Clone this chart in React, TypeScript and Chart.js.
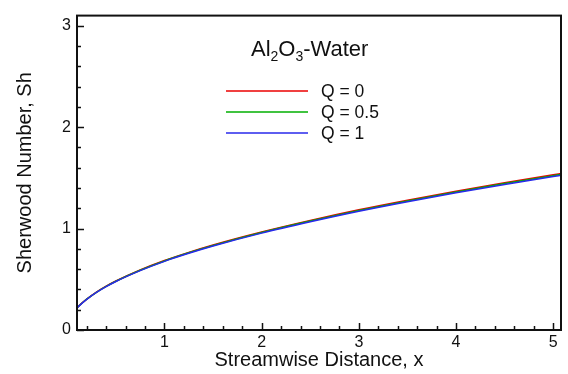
import React, { useEffect, useRef } from "react";
import { Chart, registerables } from "chart.js";

Chart.register(...registerables);

const xValues = [0.1, 0.15, 0.2, 0.3, 0.4, 0.5, 0.75, 1, 1.25, 1.5, 2, 2.5, 3, 3.5, 4, 4.5, 5, 5.08];
const shQ0 = [0.22, 0.265, 0.305, 0.374, 0.432, 0.483, 0.592, 0.685, 0.765, 0.838, 0.966, 1.08, 1.185, 1.28, 1.369, 1.452, 1.531, 1.543];
const shQ05 = [0.219, 0.264, 0.304, 0.372, 0.43, 0.481, 0.589, 0.681, 0.761, 0.833, 0.961, 1.074, 1.178, 1.273, 1.361, 1.444, 1.522, 1.534];
const shQ1 = [0.218, 0.263, 0.302, 0.37, 0.427, 0.478, 0.585, 0.677, 0.756, 0.828, 0.955, 1.067, 1.171, 1.265, 1.353, 1.435, 1.513, 1.525];

const seriesLabels = ["Q = 0", "Q = 0.5", "Q = 1"];
const seriesColors = ["rgb(235,0,0)", "rgb(0,175,0)", "rgb(40,40,235)"];
const xMajorTicks = [1, 2, 3, 4, 5];
const yMajorTicks = [0, 1, 2, 3];
const xMinorTicks = [0.2, 0.4, 0.6, 0.8, 1.2, 1.4, 1.6, 1.8, 2.2, 2.4, 2.6, 2.8, 3.2, 3.4, 3.6, 3.8, 4.2, 4.4, 4.6, 4.8];
const yMinorTicks = [0.2, 0.4, 0.6, 0.8, 1.2, 1.4, 1.6, 1.8, 2.2, 2.4, 2.6, 2.8, 3.0];

const FONT = "'Liberation Sans', Arial, Helvetica, sans-serif";

const framePlugin = {
  id: "frame",
  afterDatasetsDraw(chart: any) {
    const { ctx, chartArea, scales } = chart;
    const { left, right, top, bottom } = chartArea;
    const xs = scales.x;
    const ys = scales.y;
    ctx.save();
    ctx.strokeStyle = "#111";
    ctx.lineWidth = 1.5;
    ctx.beginPath();
    for (const v of xMajorTicks) {
      const px = Math.round(xs.getPixelForValue(v)) + 0.5;
      ctx.moveTo(px, bottom);
      ctx.lineTo(px, bottom - 7);
    }
    for (const v of xMinorTicks) {
      const px = Math.round(xs.getPixelForValue(v)) + 0.5;
      ctx.moveTo(px, bottom);
      ctx.lineTo(px, bottom - 4);
    }
    for (const v of yMajorTicks) {
      const py = Math.round(ys.getPixelForValue(v)) + 0.5;
      ctx.moveTo(left, py);
      ctx.lineTo(left + 7, py);
    }
    for (const v of yMinorTicks) {
      const py = Math.round(ys.getPixelForValue(v)) + 0.5;
      ctx.moveTo(left, py);
      ctx.lineTo(left + 4, py);
    }
    ctx.stroke();
    ctx.lineWidth = 2;
    ctx.strokeRect(left, top, right - left, bottom - top);

    // legend title with subscripts
    ctx.fillStyle = "#111";
    ctx.textBaseline = "alphabetic";
    ctx.textAlign = "left";
    const big = "22px " + FONT;
    const small = "14px " + FONT;
    let x = 251;
    const base = 56;
    const parts: [string, boolean][] = [["Al", false], ["2", true], ["O", false], ["3", true], ["-Water", false]];
    for (const [t, sub] of parts) {
      ctx.font = sub ? small : big;
      ctx.fillText(t, x, sub ? base + 5 : base);
      x += ctx.measureText(t).width;
    }

    // legend entries
    const rows = [91, 112, 133];
    ctx.font = "17.5px " + FONT;
    ctx.textBaseline = "middle";
    rows.forEach((ry, i) => {
      ctx.strokeStyle = seriesColors[i];
      ctx.lineWidth = 1.5;
      ctx.beginPath();
      ctx.moveTo(226, ry);
      ctx.lineTo(308, ry);
      ctx.stroke();
      ctx.fillStyle = "#111";
      ctx.fillText(seriesLabels[i], 321, ry + 1);
    });
    ctx.restore();
  },
};

export default function App() {
  const ref = useRef<HTMLCanvasElement | null>(null);
  useEffect(() => {
    if (!ref.current) return;
    const series = [shQ0, shQ05, shQ1];
    const chart = new Chart(ref.current, {
      type: "line",
      data: {
        datasets: series.map((s, i) => ({
          label: seriesLabels[i],
          data: xValues.map((x, j) => ({ x, y: s[j] })),
          borderColor: seriesColors[i],
          borderWidth: 1.5,
          pointRadius: 0,
          fill: false,
          order: 2 - i,
          cubicInterpolationMode: "monotone" as const,
        })),
      },
      options: {
        responsive: false,
        animation: false,
        layout: { padding: { left: 0, top: 8, right: 7, bottom: 0 } },
        plugins: { legend: { display: false }, tooltip: { enabled: false } },
        scales: {
          x: {
            type: "linear",
            min: 0.1,
            max: 5.08,
            afterBuildTicks: (s: any) => {
              s.ticks = xMajorTicks.map((v) => ({ value: v }));
            },
            afterFit: (s: any) => {
              s.height = 44;
            },
            grid: { display: false, drawTicks: false },
            border: { display: false },
            ticks: {
              color: "#111",
              font: { family: FONT, size: 16 },
              padding: 3,
              maxRotation: 0,
              callback: (v: any) => String(v),
            },
            title: {
              display: true,
              text: "Streamwise Distance, x",
              color: "#111",
              font: { family: FONT, size: 20 },
              padding: { top: 0, bottom: 2 },
            },
          },
          y: {
            type: "linear",
            min: 0,
            max: 3.1,
            afterBuildTicks: (s: any) => {
              s.ticks = yMajorTicks.map((v) => ({ value: v }));
            },
            afterFit: (s: any) => {
              s.width = 77;
            },
            grid: { display: false, drawTicks: false },
            border: { display: false },
            ticks: {
              color: "#111",
              font: { family: FONT, size: 16 },
              padding: 6,
              callback: (v: any) => String(v),
            },
            title: {
              display: true,
              text: "Sherwood Number, Sh",
              color: "#111",
              font: { family: FONT, size: 20 },
              padding: { top: 13, bottom: 0 },
            },
          },
        },
      },
      plugins: [framePlugin],
    });
    return () => chart.destroy();
  }, []);
  return (
    <div style={{ position: "fixed", left: 0, top: 0, width: 568, height: 374, background: "#fff" }}>
      <canvas ref={ref} width={568} height={374} style={{ width: 568, height: 374, display: "block" }} />
    </div>
  );
}
